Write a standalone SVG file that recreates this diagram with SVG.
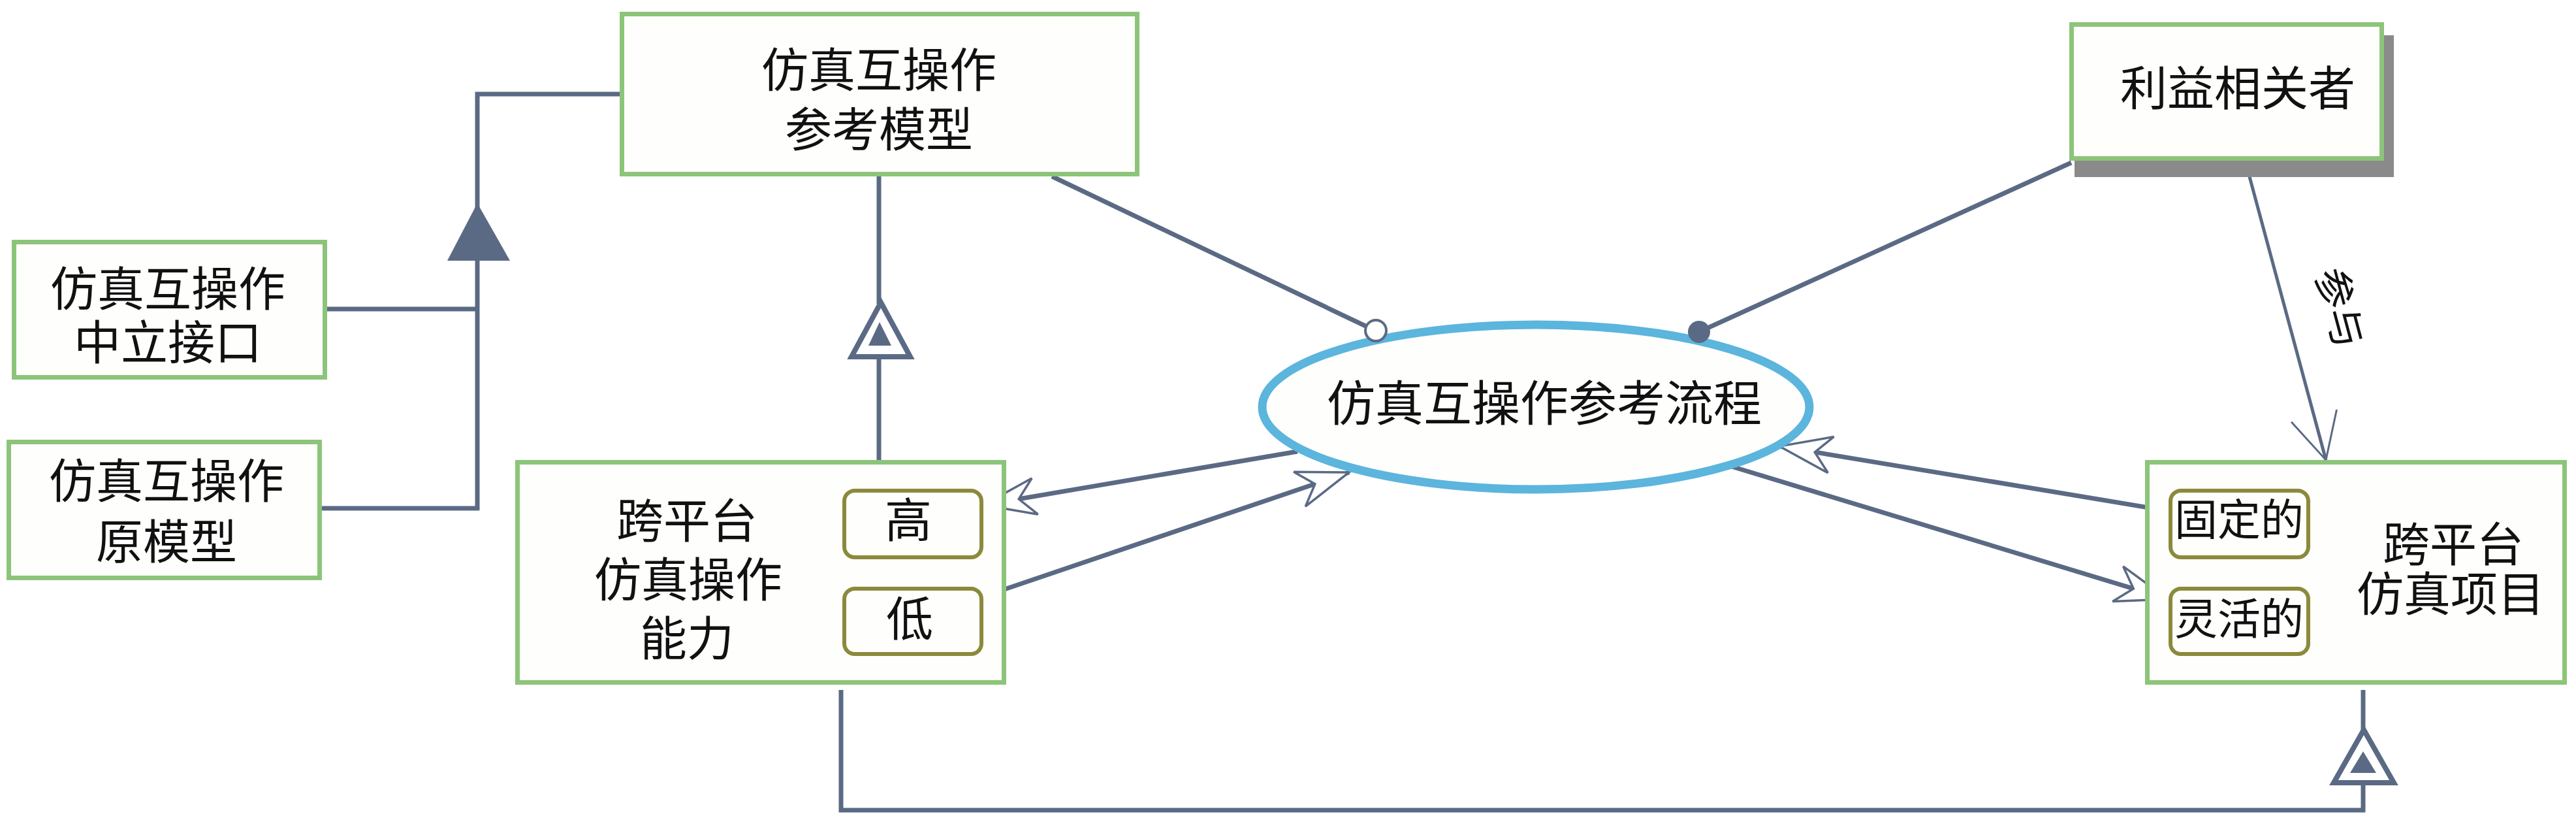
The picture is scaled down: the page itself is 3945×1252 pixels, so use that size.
<svg xmlns="http://www.w3.org/2000/svg" width="3945" height="1252" viewBox="0 0 3945 1252">
<style>
.box{fill:#fefefc;stroke:#8cc57a;stroke-width:7}
.tag{fill:#fefefc;stroke:#8b8a3c;stroke-width:6}
.t{font-family:"Liberation Sans","Noto Sans CJK SC",sans-serif;font-size:72px;fill:#111;text-anchor:middle}
.s{font-size:66px}
.ln{fill:none;stroke:#5b6a84;stroke-width:7}
.th{fill:none;stroke:#5b6a84;stroke-width:5}
</style>
<defs>
<marker id="open" markerUnits="userSpaceOnUse" markerWidth="100" markerHeight="80" viewBox="-90 -40 100 80" refX="0" refY="0" orient="auto" overflow="visible">
<path d="M0,0 L-80,-28 L-55,0 L-80,28 Z" fill="#fff" stroke="#5b6a84" stroke-width="3.5" stroke-linejoin="miter"/>
</marker>
<marker id="vee" markerUnits="userSpaceOnUse" markerWidth="100" markerHeight="90" viewBox="-90 -45 100 90" refX="0" refY="0" orient="auto" overflow="visible">
<path d="M-70,-36 L0,0 L-70,36" fill="none" stroke="#5b6a84" stroke-width="3"/>
</marker>
</defs>
<rect width="3945" height="1252" fill="#fff"/>

<g id="connectors">
<polyline class="ln" points="949,144 731,144 731,320"/>
<line class="ln" x1="731" y1="399" x2="731" y2="781"/>
<line class="ln" x1="501" y1="473" x2="731" y2="473"/>
<line class="ln" x1="493" y1="778" x2="734" y2="778"/>
<polygon points="731,311 685,399 781,399" fill="#5b6a84"/>

<line class="ln" x1="1346" y1="270" x2="1346" y2="465"/>
<line class="ln" x1="1346" y1="547" x2="1346" y2="751"/>
<polygon points="1349,463 1304,546 1394,546" fill="#fff" stroke="#5b6a84" stroke-width="8"/>
<polygon points="1347,493 1330,529 1365,529" fill="#5b6a84"/>

<polyline class="ln" points="1288,1056 1288,1240 3619,1240 3619,1199"/>
<line class="ln" x1="3619" y1="1056" x2="3619" y2="1118"/>
<polygon points="3620,1117 3574,1198 3666,1198" fill="#fff" stroke="#5b6a84" stroke-width="8"/>
<polygon points="3619,1150 3599,1183 3639,1183" fill="#5b6a84"/>

<line class="ln" x1="1611" y1="270" x2="2108" y2="507"/>
<line class="ln" x1="3172" y1="249" x2="2602" y2="508"/>
<line class="th" x1="3440" y1="252" x2="3562" y2="704" marker-end="url(#vee)"/>
<line class="ln" x1="1987" y1="691" x2="1506" y2="773" marker-end="url(#open)"/>
<line class="ln" x1="1506" y1="913" x2="2066" y2="723" marker-end="url(#open)"/>
<line class="ln" x1="3321" y1="782" x2="2725" y2="683" marker-end="url(#open)"/>
<line class="ln" x1="2652" y1="714" x2="3320" y2="917" marker-end="url(#open)"/>
<text class="t" style="font-size:62px" transform="translate(3583,471) rotate(75)" y="22">参与</text>
</g>

<g id="ref-model">
<rect class="box" x="952.5" y="21.5" width="789" height="245"/>
<text class="t"><tspan x="1346" y="133">仿真互操作</tspan><tspan x="1346" y="224">参考模型</tspan></text>
</g>

<g id="neutral-interface">
<rect class="box" x="21.5" y="370.5" width="476" height="207"/>
<text class="t"><tspan x="257" y="468">仿真互操作</tspan><tspan x="257" y="550">中立接口</tspan></text>
</g>

<g id="proto-model">
<rect class="box" x="13.5" y="676.5" width="476" height="208"/>
<text class="t"><tspan x="255" y="762">仿真互操作</tspan><tspan x="255" y="855">原模型</tspan></text>
</g>

<g id="ability">
<rect class="box" x="792.5" y="707.5" width="745" height="337"/>
<text class="t"><tspan x="1052" y="823">跨平台</tspan><tspan x="1054" y="913">仿真操作</tspan><tspan x="1052" y="1003">能力</tspan></text>
<g id="high">
<rect class="tag" x="1293" y="751" width="210" height="102" rx="16"/>
<text class="t" x="1391" y="822">高</text>
</g>
<g id="low">
<rect class="tag" x="1293" y="901" width="210" height="100" rx="16"/>
<text class="t" x="1393" y="973">低</text>
</g>
</g>

<g id="process">
<ellipse cx="2352" cy="623" rx="419" ry="126" fill="#fefefc" stroke="#5bb5dd" stroke-width="13"/>
<text class="t" x="2365" y="644" style="font-size:74px">仿真互操作参考流程</text>
<circle cx="2107" cy="506" r="16" fill="#fff" stroke="#5b6a84" stroke-width="4"/>
<circle cx="2602" cy="508" r="17" fill="#5b6a84"/>
</g>

<g id="stakeholder">
<rect x="3177" y="54" width="489" height="217" fill="#8a8a8a"/>
<rect class="box" x="3172.5" y="37.5" width="475" height="205"/>
<text class="t" x="3427" y="161">利益相关者</text>
</g>

<g id="project">
<rect class="box" x="3288.5" y="707.5" width="639" height="337"/>
<text class="t"><tspan x="3757" y="859">跨平台</tspan><tspan x="3753" y="935">仿真项目</tspan></text>
<g id="fixed">
<rect class="tag" x="3324" y="751" width="211" height="102" rx="16"/>
<text class="t s" x="3429" y="819">固定的</text>
</g>
<g id="flexible">
<rect class="tag" x="3324" y="901" width="211" height="100" rx="16"/>
<text class="t s" x="3429" y="971">灵活的</text>
</g>
</g>
</svg>
